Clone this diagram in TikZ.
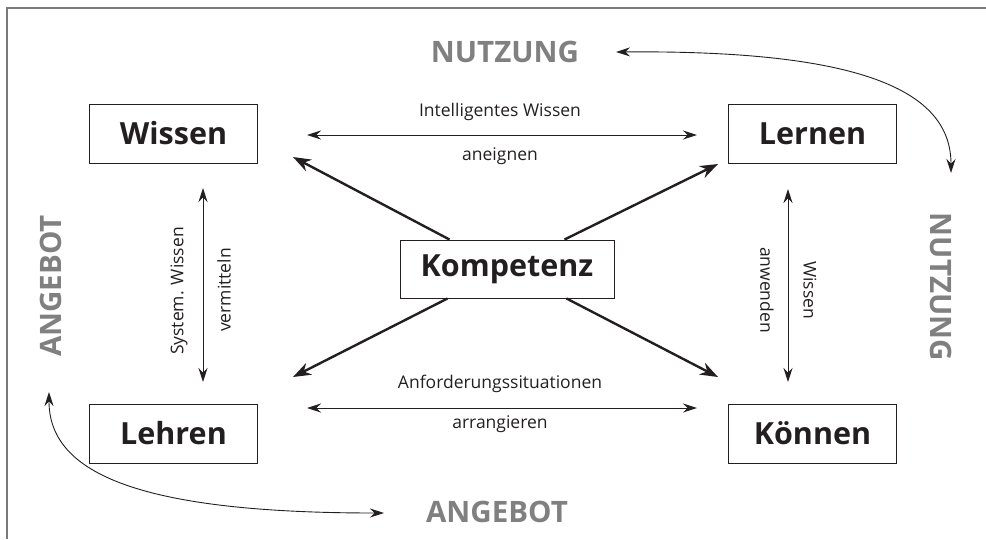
\documentclass[tikz,border=0pt]{standalone}
\usepackage{fontspec}
\setmainfont{Open Sans}
\usetikzlibrary{arrows.meta}
\definecolor{lblgray}{HTML}{808080}
\definecolor{framegray}{HTML}{7A7A7A}
\definecolor{ink}{HTML}{231F20}
\begin{document}
\begin{tikzpicture}[x=1pt,y=-1pt,
  box/.style={draw=ink, line width=0.9pt, minimum width=168pt, minimum height=59pt, inner sep=0pt,
    font=\fontsize{30.5}{32}\selectfont\bfseries, text=ink},
  small/.style={font=\fontsize{17.5}{20}\selectfont, text=ink, inner sep=0pt},
  biglbl/.style={font=\fontsize{29.5}{31}\selectfont\bfseries, text=lblgray, inner sep=0pt},
  twoway/.style={draw=ink, line width=0.9pt, {Stealth[length=14pt,width=9pt]}-{Stealth[length=14pt,width=9pt]}},
  heavy/.style={draw=ink, line width=2.4pt, -{Stealth[length=18pt,width=13pt]}},
  curvearrow/.style={draw=ink, line width=0.9pt, {Stealth[length=14pt,width=9pt]}-{Stealth[length=14pt,width=9pt]}}
]
\useasboundingbox (0,0) rectangle (986,539);
\draw[framegray, line width=1.6pt] (7,539) -- (7,8) -- (986,8);

% boxes
\node[box] (wissen) at (173.5,133.5) {Wissen};
\node[box] (lernen) at (812.5,133.5) {Lernen};
\node[box] (lehren) at (173.5,433.5) {Lehren};
\node[box] (koennen) at (812.5,433.5) {Können};
\node[box, minimum width=214pt, minimum height=58pt] (komp) at (507,269) {Kompetenz};

% big labels
\node[biglbl] (ntop) at (505,52) {NUTZUNG};
\node[biglbl, rotate=-90] (nside) at (941,287) {NUTZUNG};
\node[biglbl, rotate=90] (aside) at (51,286) {ANGEBOT};
\node[biglbl] (abot) at (497,512) {ANGEBOT};

% small labels
\node[small] (t1) at (500,112) {Intelligentes Wissen};
\node[small] (t2) at (500,156) {aneignen};
\node[small] (t3) at (500,384) {Anforderungssituationen};
\node[small] (t4) at (500,424) {arrangieren};
\node[small, rotate=90] (t5) at (179,291) {System. Wissen};
\node[small, rotate=90] (t6) at (224,290) {vermitteln};
\node[small, rotate=-90] (t7) at (810,290) {Wissen};
\node[small, rotate=-90] (t8) at (767,290) {anwenden};

% coordinates
\coordinate (hl1) at (307,135);
\coordinate (hr1) at (697,135);
\coordinate (hl2) at (307,408);
\coordinate (hr2) at (697,408);
\coordinate (vl1) at (203,188);
\coordinate (vl2) at (203,382);
\coordinate (vr1) at (788,189);
\coordinate (vr2) at (788,382);
\coordinate (dw) at (293,157);
\coordinate (dl) at (718,164);
\coordinate (dh) at (293,377);
\coordinate (dk) at (718,377);
\coordinate (c1) at (616,52);
\coordinate (c2) at (951,173);
\coordinate (c3) at (49,392);
\coordinate (c4) at (384,513);

% connectors
\draw[twoway] (hl1) -- (hr1);
\draw[twoway] (hl2) -- (hr2);
\draw[twoway] (vl1) -- (vl2);
\draw[twoway] (vr1) -- (vr2);
\draw[heavy] ([xshift=50pt]komp.north west) -- (dw);
\draw[heavy] ([xshift=-50pt]komp.north east) -- (dl);
\draw[heavy] ([xshift=48pt]komp.south west) -- (dh);
\draw[heavy] ([xshift=-48pt]komp.south east) -- (dk);
\draw[curvearrow] (c1) .. controls (860,50) and (951,90) .. (c2);
\draw[curvearrow] (c3) .. controls (49,470) and (130,513) .. (c4);
\end{tikzpicture}
\end{document}
